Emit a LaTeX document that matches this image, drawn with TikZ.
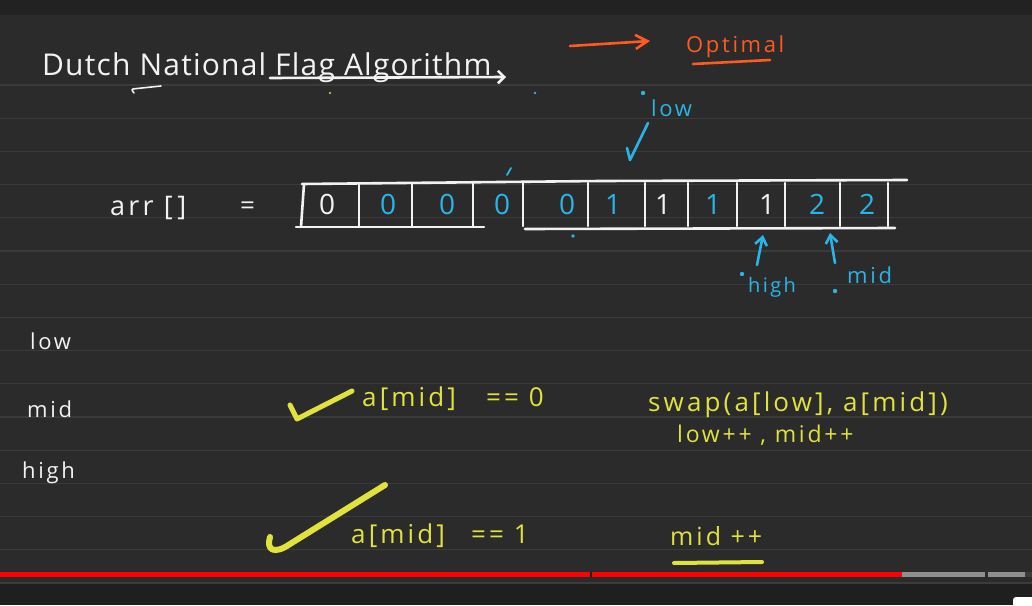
\documentclass[tikz,border=0pt]{standalone}
\usepackage{fontspec}
\setmainfont{Open Sans}
\newfontfamily\handfont[LetterSpace=12]{Open Sans}
\newfontfamily\titlefont[LetterSpace=4]{Open Sans}
\usetikzlibrary{arrows.meta,positioning}
\definecolor{cBoard}{HTML}{2B2B2B}
\definecolor{cTop}{HTML}{222222}
\definecolor{cFoot}{HTML}{1F1F1F}
\definecolor{cRule}{HTML}{3B3B3B}
\definecolor{cInk}{HTML}{F2F2F2}
\definecolor{cBlue}{HTML}{29B5E8}
\definecolor{cYel}{HTML}{E2E23C}
\definecolor{cOrange}{HTML}{FF5A1F}
\definecolor{cBar}{HTML}{FF0000}
\definecolor{cBarGrey}{HTML}{8F8F8F}

\begin{document}
\begin{tikzpicture}[
  x=1pt, y=-1pt,
  >={Straight Barb[length=2.2mm]},
  hand/.style={inner sep=0pt, anchor=base west,
               font=\handfont\fontsize{#1}{#1}\selectfont},
  hand/.default=24,
  digit/.style={inner sep=0pt, anchor=base,
                font=\handfont\fontsize{28}{28}\selectfont},
  ink/.style={line width=2.6pt, line cap=round, line join=round, draw=#1},
  ink/.default=cInk,
  marker/.style={line width=5pt, line cap=round, line join=round, draw=cYel},
  upArrow/.style={ink=cBlue, -{Straight Barb[length=8pt,width=12pt]}},
]
\useasboundingbox (0,0) rectangle (1032,605);
\clip (0,0) rectangle (1032,605);

% ---------------- board ----------------
\fill[cBoard] (0,0) rectangle (1032,605);
\fill[cTop] (0,0) rectangle (1032,15);
\foreach \k in {0,...,15}
  \draw[cRule, line width=1.2pt] ({0},{85+33.2*\k}) -- ({1032},{85+33.2*\k});
\fill[cFoot] (0,583.5) rectangle (1032,605);

% ---------------- heading ----------------
\node (title) [inner sep=0pt, anchor=base west, text=cInk,
               font=\titlefont\fontsize{30}{30}\selectfont] at (42,75) {Dutch National Flag Algorithm};
\draw[ink, ->] (270,78) -- (506,77);
\draw[ink, line width=1.6pt] (161,86) -- (137,88.5) .. controls (131,89) .. (134,93);

\coordinate (optFrom) at (570,46);
\coordinate (optTo) at (650,41);
\draw[ink=cOrange, -{Straight Barb[length=12pt,width=14pt]}] (optFrom) -- (optTo);
\node (optimal) [hand=22, text=cOrange] at (686,52) {Optimal};
\draw[ink=cOrange] (693,64) -- (770,60);

% ---------------- array ----------------
\node (arrLabel) [hand=27, text=cInk] at (110,215) {arr [\,]};
\node (eqSign) [hand=26, text=cInk] at (240,214) {=};

\draw[ink] (302,184) -- (600,181) -- (907,180);
\draw[ink] (296,227) -- (484,227);
\draw[ink] (525,229) -- (895,228);
\draw[ink] (304,184) -- (301,227);
\foreach \x in {359,412,473,523,588,645,688,737,785,840,888}
  \draw[ink] (\x,183) -- (\x,226);

\foreach \x/\d/\c [count=\i] in {327/0/cInk, 388/0/cBlue, 447/0/cBlue,
    502/0/cBlue, 567/0/cBlue, 613/1/cBlue, 663/1/cInk, 713/1/cBlue,
    767/1/cInk, 817/2/cBlue, 867/2/cBlue}
  \node (c\i) [digit, text=\c] at (\x,214) {\d};
\draw[ink=cBlue, line width=1.8pt] (507,175) -- (511,168);

% pointers
\fill[cBlue] (643,93) circle (2.2);
\fill[cBlue] (535,93) circle (1.4);
\fill[cYel] (330,93) circle (1.2);
\node (lowTag) [hand=22, text=cBlue] at (651,116) {low};
\draw[ink=cBlue] (627,148) -- (630,160) -- (648,123);
\fill[cBlue] (573,236) circle (1.8);

\coordinate (hiTail) at (757,265);
\coordinate (hiTip) at (763,235);
\coordinate (midTail) at (835,263);
\coordinate (midTip) at (830,233);
\draw[upArrow] (hiTail) -- (hiTip);
\draw[upArrow] (midTail) -- (midTip);
\fill[cBlue] (742,274) circle (2.2);
\node (hiTag) [hand=20, text=cBlue] at (748,292) {high};
\fill[cBlue] (835,291) circle (2.2);
\node (midTag) [hand=22, text=cBlue] at (847,283) {mid};

% ---------------- variables ----------------
\node (lowVar) [hand=22, text=cInk] at (30,349) {low};
\node (midVar) [hand=22, text=cInk] at (27,417) {mid};
\node (highVar) [hand=22, text=cInk] at (22,478) {high};

% ---------------- cases ----------------
\draw[marker] (290,405) -- (297,419) -- (352,391);
\node (caseZero) [hand=26, text=cYel] at (362,406) {a[mid]\hspace{30pt}== 0};
\node (swapStep) [hand=26, text=cYel] at (648,411) {swap(a[low], a[mid])};
\node (incBoth) [hand=23, text=cYel] at (677,442) {low++ , mid++};

\draw[marker, line width=6pt] (270,537) .. controls (266,550) and (274,555) .. (290,544) -- (385,485);
\node (caseOne) [hand=26, text=cYel] at (351,543) {a[mid]\hspace{26pt}== 1};
\node (incMid) [hand=25, text=cYel] at (670,545) {mid ++};
\draw[marker, line width=4pt] (674,563) -- (762,562);

% ---------------- player bar ----------------
\draw[cBar, line width=4.5pt] (0,574.5) -- (902,574.5);
\draw[cFoot, line width=1.5pt] (591,572) -- (591,577);
\draw[cBarGrey, line width=4.5pt] (902,574.5) -- (985,574.5);
\draw[cBarGrey, line width=4.5pt] (987.5,574.5) -- (1025,574.5);
\draw[cRule, line width=4.5pt] (1025,574.5) -- (1032,574.5);
\fill[white, rounded corners=3pt] (1013,597) rectangle (1045,615);

\end{tikzpicture}
\end{document}
